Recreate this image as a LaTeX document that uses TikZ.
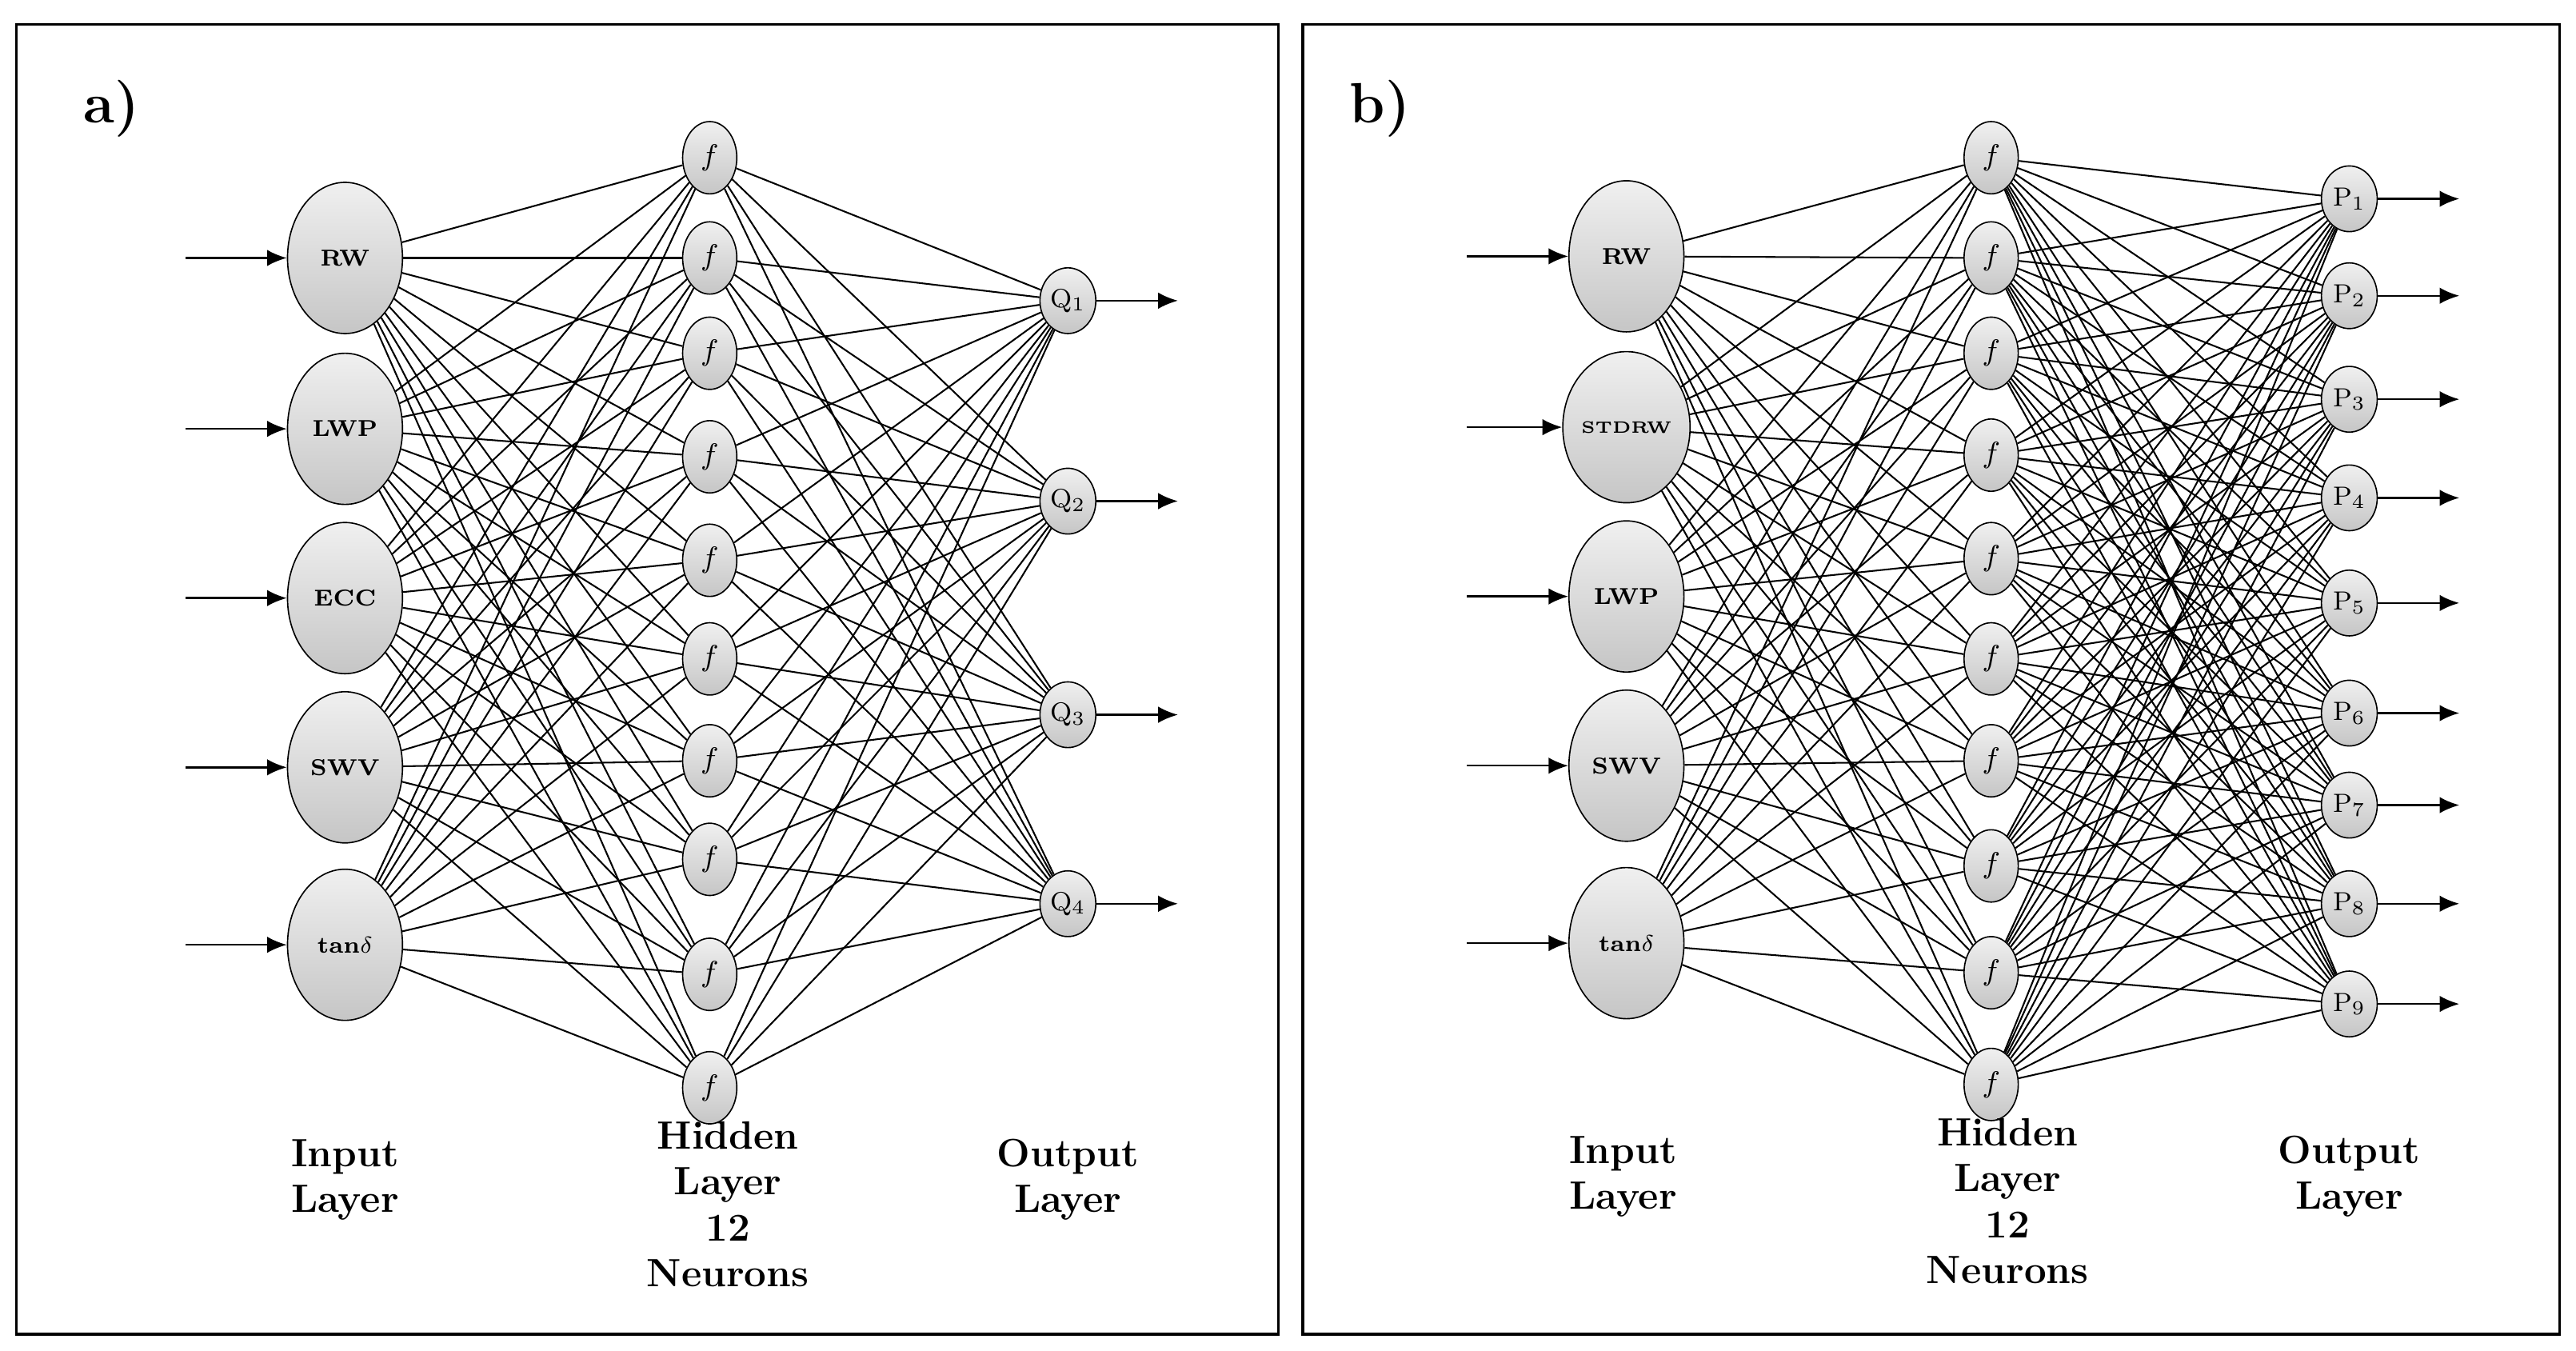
\documentclass[tikz,border=0pt]{standalone}
\usetikzlibrary{shapes.geometric, arrows.meta}
\begin{document}
\begin{tikzpicture}[x=0.5pt, y=-0.5pt,
    neuron/.style={ellipse, draw, thin, top color=gray!12, bottom color=gray!45, inner sep=0pt, font=\bfseries},
    inp/.style={neuron, minimum width=35pt, minimum height=46pt, font=\bfseries\scriptsize},
    hid/.style={neuron, minimum width=16.5pt, minimum height=22pt, font=\small},
    outp/.style={neuron, minimum width=17pt, minimum height=20pt, font=\footnotesize},
    link/.style={line width=0.5pt},
    feed/.style={line width=0.6pt, -{Latex[length=6pt, width=5pt]}},
    caption/.style={align=center, font=\bfseries\large, text width=60pt}]
    \useasboundingbox (0,0) rectangle (1568,822);
    % frames
    \draw[line width=0.8pt] (10,15) rectangle (778,812);
    \draw[line width=0.8pt] (793,15) rectangle (1558,812);
    \node[font=\bfseries\LARGE] (ta) at (68,66) {a)};
    \node[font=\bfseries\LARGE] (tb) at (840,66) {b)};

    % panel a
    \foreach \n/\t [count=\i] in {RW/157,LWP/261,ECC/364,SWV/467,tan$\delta$/575} {
        \node[inp] (ia\i) at (210,\t) {\n};
        \coordinate (sa\i) at (113,\t);
        \draw[feed] (sa\i) -- (ia\i);
    }
    \foreach \t [count=\i] in {96,157,215,278,341,401,463,523,593,662}
        \node[hid] (ha\i) at (432,\t) {$f$};
    \foreach \t [count=\i] in {183,305,435,550} {
        \node[outp] (oa\i) at (650,\t) {Q$_{\i}$};
        \coordinate (ea\i) at (717,\t);
        \draw[feed] (oa\i) -- (ea\i);
    }
    \foreach \i in {1,...,5}
        \foreach \j in {1,...,10}
            \draw[link] (ia\i) -- (ha\j);
    \foreach \j in {1,...,10}
        \foreach \k in {1,...,4}
            \draw[link] (ha\j) -- (oa\k);
    \node[caption] (la1) at (210,718) {Input\\Layer};
    \node[caption] (la2) at (443,733) {Hidden\\Layer\\12 Neurons};
    \node[caption] (la3) at (650,718) {Output\\Layer};

    % panel b
    \foreach \n/\t [count=\i] in {RW/156,STDRW/260,LWP/363,SWV/466,tan$\delta$/574} {
        \node[inp] (ib\i) at (990,\t) {\ifnum\i=2 \tiny\fi\n};
        \coordinate (sb\i) at (893,\t);
        \draw[feed] (sb\i) -- (ib\i);
    }
    \foreach \t [count=\i] in {96,157,215,277,340,401,463,527,592,660}
        \node[hid] (hb\i) at (1212,\t) {$f$};
    \foreach \t [count=\i] in {121,180,243,303,367,434,490,550,611} {
        \node[outp] (ob\i) at (1430,\t) {P$_{\i}$};
        \coordinate (eb\i) at (1497,\t);
        \draw[feed] (ob\i) -- (eb\i);
    }
    \foreach \i in {1,...,5}
        \foreach \j in {1,...,10}
            \draw[link] (ib\i) -- (hb\j);
    \foreach \j in {1,...,10}
        \foreach \k in {1,...,9}
            \draw[link] (hb\j) -- (ob\k);
    \node[caption] (lb1) at (988,716) {Input\\Layer};
    \node[caption] (lb2) at (1222,731) {Hidden\\Layer\\12 Neurons};
    \node[caption] (lb3) at (1430,716) {Output\\Layer};
\end{tikzpicture}
\end{document}
